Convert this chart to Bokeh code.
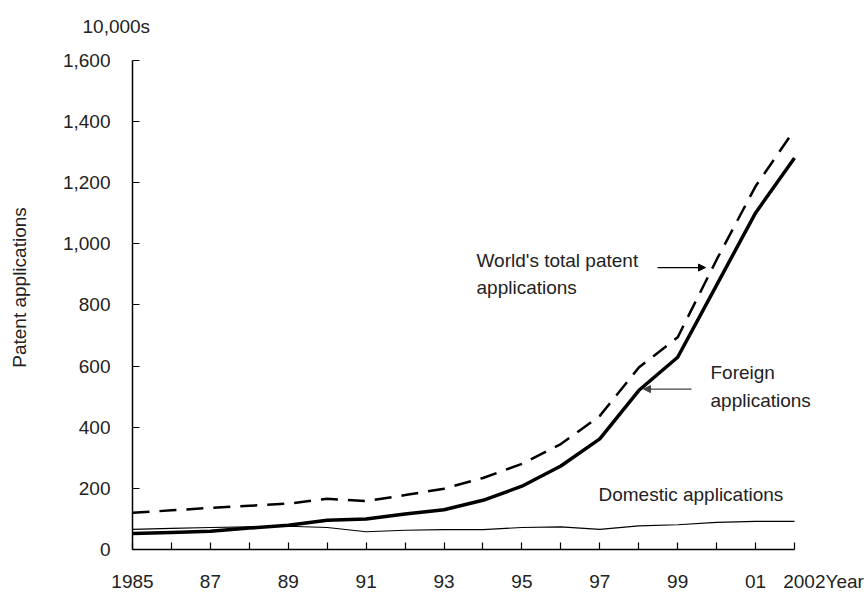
from bokeh.plotting import figure
from bokeh.models import Range1d, FixedTicker, Label, Arrow, NormalHead, Title
from bokeh.embed import file_html
from bokeh.resources import INLINE

years = list(range(1985, 2003))
world_total = [120, 128, 136, 143, 150, 166, 158, 178, 199, 234, 280, 345, 437, 595, 694, 948, 1188, 1373]
foreign = [52, 56, 60, 70, 79, 96, 100, 116, 130, 161, 207, 273, 362, 520, 629, 865, 1101, 1281]
domestic = [66, 69, 72, 74, 76, 72, 58, 63, 65, 65, 72, 74, 66, 77, 81, 89, 92, 92]

NB = "\u00a0"
x_tick_labels = ["1985", "", "87", "", "89", "", "91", "", "93", "", "95", "", "97", "", "99", "", "01",
                 NB * 11 + "2002Year"]
y_ticks = [0, 200, 400, 600, 800, 1000, 1200, 1400, 1600]
y_tick_labels = ["0", "200", "400", "600", "800", "1,000", "1,200", "1,400", "1,600"]
unit_label = "10,000s"

FONT = "Liberation Sans"
TXT = "#222222"
FS = "19px"

W, H = 867, 594
LEFT, RIGHT_X, TOP, BOTTOM = 132, 794, 60, 551      # plot area in pixels (1985..2002, 0..1600)
FRAME_TOP = 25
px_per_year = (RIGHT_X - LEFT) / (years[-1] - years[0])
px_per_unit = (BOTTOM - TOP) / (y_ticks[-1] - y_ticks[0])
x_end = years[0] + (W - LEFT) / px_per_year
y_end = (BOTTOM - FRAME_TOP) / px_per_unit

p = figure(width=W, height=H, output_backend="svg", toolbar_location=None,
           x_range=Range1d(years[0], x_end), y_range=Range1d(0, y_end),
           min_border_left=LEFT, min_border_right=0, min_border_top=FRAME_TOP,
           min_border_bottom=H - BOTTOM)
p.outline_line_color = None
p.xgrid.visible = False
p.ygrid.visible = False

p.add_layout(Title(text=unit_label, align="left", offset=82 - LEFT, standoff=-22,
                   text_font=FONT, text_font_size=FS, text_font_style="normal",
                   text_color=TXT), "above")

def dx(sx):
    return years[0] + (sx - LEFT) / px_per_year

def dy(sy):
    return (BOTTOM - sy) / px_per_unit

p.line(years, domestic, line_color="black", line_width=1.2)
p.line(years, foreign, line_color="black", line_width=3.5)
p.line(years, world_total, line_color="black", line_width=2.5, line_dash="17 10")

for ax in (p.xaxis[0], p.yaxis[0]):
    ax.axis_line_color = "black"
    ax.axis_line_width = 1.5
    ax.major_tick_line_color = "black"
    ax.major_tick_line_width = 1.2
    ax.major_tick_in = 7
    ax.major_tick_out = 0
    ax.minor_tick_line_color = None
    ax.major_label_text_font = FONT
    ax.major_label_text_font_size = FS
    ax.major_label_text_color = TXT

p.xaxis.bounds = (years[0], years[-1])
p.xaxis.ticker = FixedTicker(ticks=years)
p.xaxis.major_label_overrides = {y: l for y, l in zip(years, x_tick_labels)}
p.xaxis.major_label_standoff = 21

p.yaxis.bounds = (y_ticks[0], y_ticks[-1])
p.yaxis.ticker = FixedTicker(ticks=y_ticks)
p.yaxis.major_label_overrides = {t: l for t, l in zip(y_ticks, y_tick_labels)}
p.yaxis.major_label_standoff = 22
p.yaxis.axis_label = "Patent applications"
p.yaxis.axis_label_text_font = FONT
p.yaxis.axis_label_text_font_size = FS
p.yaxis.axis_label_text_font_style = "normal"
p.yaxis.axis_label_text_color = TXT
p.yaxis.axis_label_standoff = 30

def add_label(text, sx, sy):
    p.add_layout(Label(x=dx(sx), y=dy(sy), text=text, text_font=FONT, text_font_size=FS,
                       text_color=TXT, text_align="left", text_baseline="alphabetic"))

add_label("World's total patent", 476, 261)
add_label("applications", 476, 288)
add_label("Foreign", 710, 373)
add_label("applications", 710, 401)
add_label("Domestic applications", 598, 496)

p.add_layout(Arrow(x_start=dx(657), y_start=dy(268), x_end=dx(705), y_end=dy(268),
                   line_color="black", line_width=1.2,
                   end=NormalHead(size=7, fill_color="black", line_color="black")))
p.add_layout(Arrow(x_start=dx(691), y_start=dy(390), x_end=dx(643), y_end=dy(390),
                   line_color="#444444", line_width=1.2,
                   end=NormalHead(size=7, fill_color="#444444", line_color="#444444")))

open("out.html", "w").write(file_html(p, INLINE))
